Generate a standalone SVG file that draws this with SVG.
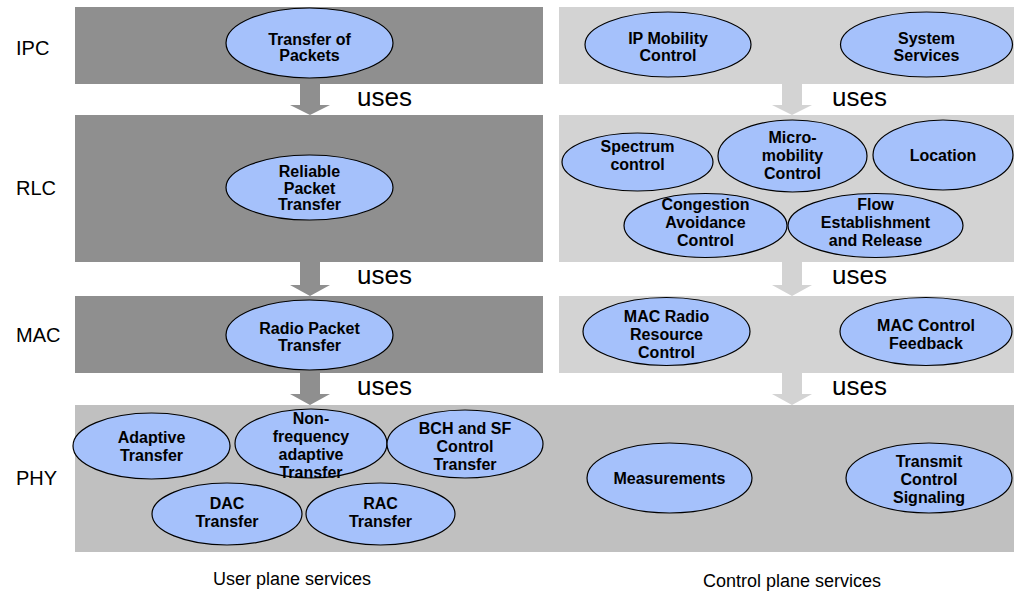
<svg xmlns="http://www.w3.org/2000/svg" width="1014" height="592" viewBox="0 0 1014 592">
  <style>
    .user { fill: #8f8f8f; }
    .ctrl { fill: #d3d3d3; }
    .phy { fill: #c0c0c0; }
    .svc ellipse { fill: #a5c1fb; stroke: #000; stroke-width: 1.2; }
    .svc text { font-family: "Liberation Sans", Arial, sans-serif; font-weight: bold; font-size: 16px; fill: #000; text-anchor: middle; }
    .layer { font-family: "Liberation Sans", Arial, sans-serif; font-size: 20px; fill: #000; }
    .uses { font-family: "Liberation Sans", Arial, sans-serif; font-size: 26px; fill: #000; }
    .plane { font-family: "Liberation Sans", Arial, sans-serif; font-size: 18px; fill: #000; text-anchor: middle; }
    .arr-user { fill: #8f8f8f; }
    .arr-ctrl { fill: #d3d3d3; }
  </style>

  <!-- layer bands -->
  <g id="bands">
    <rect class="user" x="75" y="7" width="468" height="77"/>
    <rect class="user" x="75" y="115" width="468" height="147"/>
    <rect class="user" x="75" y="296" width="468" height="77"/>
    <rect class="ctrl" x="559" y="7" width="455" height="77"/>
    <rect class="ctrl" x="559" y="115" width="455" height="147"/>
    <rect class="ctrl" x="559" y="296" width="455" height="77"/>
    <rect class="phy" x="75" y="405" width="939" height="147"/>
  </g>

  <!-- layer names -->
  <g id="layer-labels">
    <text class="layer" x="16" y="55">IPC</text>
    <text class="layer" x="16" y="195">RLC</text>
    <text class="layer" x="16" y="342">MAC</text>
    <text class="layer" x="16" y="485">PHY</text>
  </g>

  <!-- "uses" arrows between layers -->
  <g id="connectors">
    <polygon class="arr-user" points="300,84 320,84 320,105 330,105 310,115 290,105 300,105"/>
    <polygon class="arr-user" points="300,262 320,262 320,285 330,285 310,296 290,285 300,285"/>
    <polygon class="arr-user" points="300,373 320,373 320,394 330,394 310,405 290,394 300,394"/>
    <polygon class="arr-ctrl" points="782,84 802,84 802,105 812,105 792,115 772,105 782,105"/>
    <polygon class="arr-ctrl" points="782,262 802,262 802,285 812,285 792,296 772,285 782,285"/>
    <polygon class="arr-ctrl" points="782,373 802,373 802,394 812,394 792,405 772,394 782,394"/>
    <text class="uses" x="357" y="106">uses</text>
    <text class="uses" x="357" y="284">uses</text>
    <text class="uses" x="357" y="395">uses</text>
    <text class="uses" x="832" y="106">uses</text>
    <text class="uses" x="832" y="284">uses</text>
    <text class="uses" x="832" y="395">uses</text>
  </g>

  <!-- user plane services -->
  <g id="transfer-of-packets" class="svc">
    <ellipse cx="309.5" cy="43" rx="83.5" ry="35"/>
    <text x="309.5" y="44.5">Transfer of</text>
    <text x="309.5" y="61">Packets</text>
  </g>
  <g id="reliable-packet-transfer" class="svc">
    <ellipse cx="309.5" cy="187.5" rx="83.5" ry="32.5"/>
    <text x="309.5" y="177">Reliable</text>
    <text x="309.5" y="193.5">Packet</text>
    <text x="309.5" y="210">Transfer</text>
  </g>
  <g id="radio-packet-transfer" class="svc">
    <ellipse cx="309.5" cy="335" rx="83.5" ry="35"/>
    <text x="309.5" y="334">Radio Packet</text>
    <text x="309.5" y="351">Transfer</text>
  </g>
  <g id="adaptive-transfer" class="svc">
    <ellipse cx="151.5" cy="446" rx="78.5" ry="33"/>
    <text x="151.5" y="443">Adaptive</text>
    <text x="151.5" y="461">Transfer</text>
  </g>
  <g id="non-frequency-adaptive-transfer" class="svc">
    <ellipse cx="311" cy="443.5" rx="76" ry="34.5"/>
    <text x="311" y="424">Non-</text>
    <text x="311" y="442">frequency</text>
    <text x="311" y="460">adaptive</text>
    <text x="311" y="478">Transfer</text>
  </g>
  <g id="bch-sf-control-transfer" class="svc">
    <ellipse cx="465" cy="444" rx="78" ry="34"/>
    <text x="465" y="434">BCH and SF</text>
    <text x="465" y="452">Control</text>
    <text x="465" y="470">Transfer</text>
  </g>
  <g id="dac-transfer" class="svc">
    <ellipse cx="227" cy="514" rx="75" ry="31"/>
    <text x="227" y="509">DAC</text>
    <text x="227" y="527">Transfer</text>
  </g>
  <g id="rac-transfer" class="svc">
    <ellipse cx="380.5" cy="514" rx="74.5" ry="31"/>
    <text x="380.5" y="509">RAC</text>
    <text x="380.5" y="527">Transfer</text>
  </g>

  <!-- control plane services -->
  <g id="ip-mobility-control" class="svc">
    <ellipse cx="668" cy="44.5" rx="83" ry="32.5"/>
    <text x="668" y="44">IP Mobility</text>
    <text x="668" y="61">Control</text>
  </g>
  <g id="system-services" class="svc">
    <ellipse cx="926.5" cy="44.5" rx="86" ry="32.5"/>
    <text x="926.5" y="44">System</text>
    <text x="926.5" y="61">Services</text>
  </g>
  <g id="spectrum-control" class="svc">
    <ellipse cx="637.5" cy="162" rx="75.5" ry="29"/>
    <text x="637.5" y="152">Spectrum</text>
    <text x="637.5" y="170">control</text>
  </g>
  <g id="micro-mobility-control" class="svc">
    <ellipse cx="792.5" cy="156" rx="74.5" ry="36"/>
    <text x="792.5" y="143">Micro-</text>
    <text x="792.5" y="161">mobility</text>
    <text x="792.5" y="179">Control</text>
  </g>
  <g id="location" class="svc">
    <ellipse cx="943" cy="155" rx="70" ry="35"/>
    <text x="943" y="161">Location</text>
  </g>
  <g id="congestion-avoidance-control" class="svc">
    <ellipse cx="705.5" cy="225.5" rx="81.5" ry="32"/>
    <text x="705.5" y="210">Congestion</text>
    <text x="705.5" y="228">Avoidance</text>
    <text x="705.5" y="246">Control</text>
  </g>
  <g id="flow-establishment-release" class="svc">
    <ellipse cx="875.5" cy="225.5" rx="87.5" ry="32"/>
    <text x="875.5" y="210">Flow</text>
    <text x="875.5" y="228">Establishment</text>
    <text x="875.5" y="246">and Release</text>
  </g>
  <g id="mac-radio-resource-control" class="svc">
    <ellipse cx="666.5" cy="331.5" rx="83.5" ry="34"/>
    <text x="666.5" y="322">MAC Radio</text>
    <text x="666.5" y="340">Resource</text>
    <text x="666.5" y="358">Control</text>
  </g>
  <g id="mac-control-feedback" class="svc">
    <ellipse cx="926" cy="331.5" rx="86" ry="34"/>
    <text x="926" y="331">MAC Control</text>
    <text x="926" y="349">Feedback</text>
  </g>
  <g id="measurements" class="svc">
    <ellipse cx="669.5" cy="478" rx="82.5" ry="35"/>
    <text x="669.5" y="484">Measurements</text>
  </g>
  <g id="transmit-control-signaling" class="svc">
    <ellipse cx="929" cy="478" rx="83" ry="35"/>
    <text x="929" y="467">Transmit</text>
    <text x="929" y="485">Control</text>
    <text x="929" y="503">Signaling</text>
  </g>

  <!-- plane captions -->
  <g id="captions">
    <text class="plane" x="292" y="585">User plane services</text>
    <text class="plane" x="792" y="587">Control plane services</text>
  </g>
</svg>
